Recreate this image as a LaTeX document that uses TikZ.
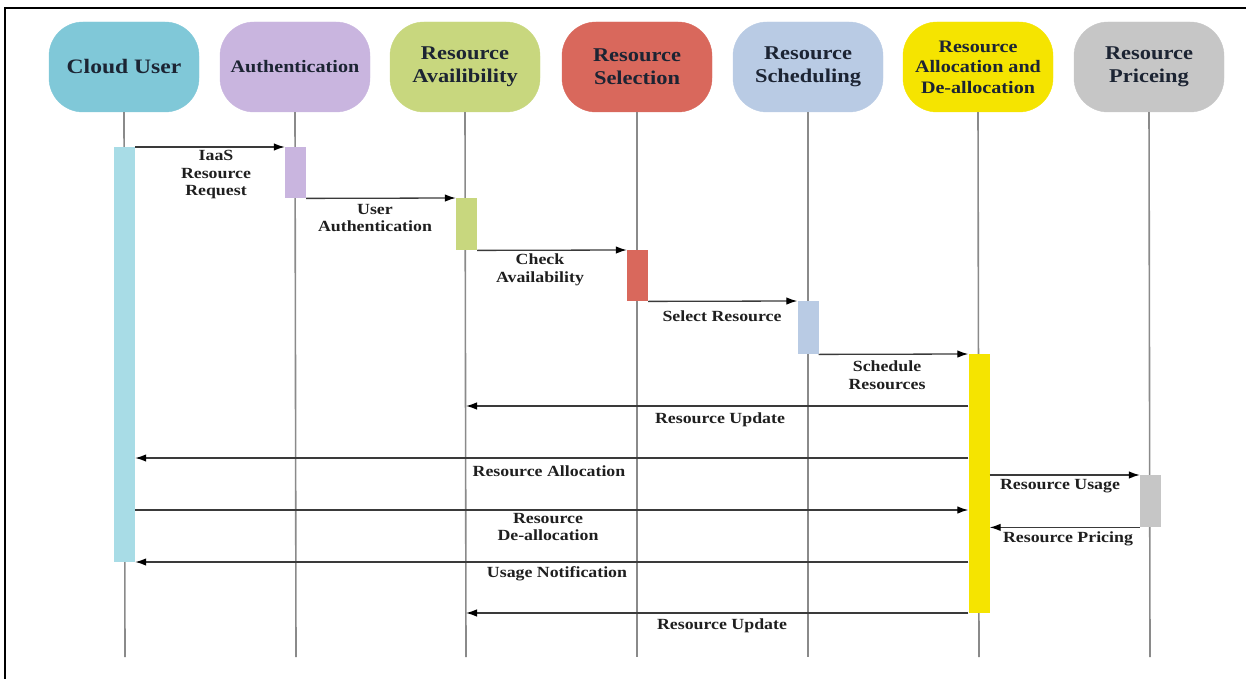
\documentclass[tikz,border=0pt]{standalone}
\usepackage{fontspec}
\setmainfont{Liberation Serif}
\newfontfamily\wfont[FakeStretch=1.15]{Liberation Serif}
\usetikzlibrary{arrows.meta}
\definecolor{cCloud}{HTML}{80C8D8}
\definecolor{cCloudBar}{HTML}{A8DCE6}
\definecolor{cAuth}{HTML}{C9B5DF}
\definecolor{cAvail}{HTML}{C8D77E}
\definecolor{cSel}{HTML}{D9685C}
\definecolor{cSched}{HTML}{B9CBE4}
\definecolor{cAlloc}{HTML}{F5E400}
\definecolor{cPrice}{HTML}{C6C6C6}
\definecolor{headtxt}{HTML}{1C2433}
\definecolor{lifegray}{HTML}{8A8A8A}
\definecolor{msggray}{HTML}{3A3A3A}
\tikzset{
  head/.style={fill=#1, draw=#1, rounded corners=34pt, minimum width=150pt,
    minimum height=90pt, inner sep=0pt, align=center, text=headtxt},
  hbig/.style={font=\wfont\bfseries\fontsize{20.5}{23}\selectfont},
  hmid/.style={font=\wfont\bfseries\fontsize{19.5}{23}\selectfont},
  hsmall/.style={font=\wfont\bfseries\fontsize{17.5}{20.5}\selectfont},
  bar/.style={fill=#1, draw=none, minimum width=21pt, inner sep=0pt, anchor=north},
  life/.style={draw=lifegray, line width=1.6pt},
  msg/.style={draw=msggray, line width=1.3pt, -{Latex[length=11pt,width=7.5pt,color=black]}},
  lbl/.style={font=\wfont\bfseries\fontsize{15.5}{17.5}\selectfont, text=black!88, align=center, inner sep=0pt},
}
\begin{document}
\begin{tikzpicture}[x=1pt,y=-1pt]
\useasboundingbox (0,0) rectangle (1246,679);
% frame (cropped)
\draw[line width=2pt] (5,679) -- (5,8) -- (1246,8);

% headers
\node[head=cCloud, hbig]  (h1) at (124,67)  {Cloud User};
\node[head=cAuth, hsmall] (h2) at (295,67)  {Authentication};
\node[head=cAvail, hmid]  (h3) at (465,67)  {Resource\\Availibility};
\node[head=cSel, hmid]    (h4) at (637,67)  {Resource\\Selection};
\node[head=cSched, hmid]  (h5) at (808,67)  {Resource\\Scheduling};
\node[head=cAlloc, hsmall](h6) at (978,67)  {Resource\\Allocation and\\De-allocation};
\node[head=cPrice, hmid]  (h7) at (1149,67) {Resource\\Priceing};

% lifeline ends
\coordinate (e1) at (125,657);
\coordinate (e2) at (296,657);
\coordinate (e3) at (466,657);
\coordinate (e4) at (637,657);
\coordinate (e5) at (808,657);
\coordinate (e6) at (979,657);
\coordinate (e7) at (1150,657);
\foreach \i in {1,...,7} { \draw[life] (h\i.south) -- (e\i); }

% activation bars
\node[bar=cCloudBar, minimum height=415pt] (b1) at (124.5,147) {};
\node[bar=cAuth,  minimum height=51pt]  (b2) at (295.5,147) {};
\node[bar=cAvail, minimum height=52pt]  (b3) at (466.5,198) {};
\node[bar=cSel,   minimum height=51pt]  (b4) at (637.5,250) {};
\node[bar=cSched, minimum height=53pt]  (b5) at (808,301) {};
\node[bar=cAlloc, minimum height=259pt] (b6) at (979,354) {};
\node[bar=cPrice, minimum height=52pt]  (b7) at (1150.5,475) {};

% message rows
\coordinate (y6)  at (0,406);
\coordinate (y7)  at (0,458);
\coordinate (y8)  at (0,510);
\coordinate (y11) at (0,562);
\coordinate (y12) at (0,613);

% messages
\draw[msg] (b1.north east) -- (b2.north west);
\draw[msg] (b2.south east) -- (b3.north west);
\draw[msg] (b3.south east) -- (b4.north west);
\draw[msg] (b4.south east) -- (b5.north west);
\draw[msg] (b5.south east) -- (b6.north west);
\draw[msg] (b6.west |- y6) -- (e3 |- y6);
\draw[msg] (b6.west |- y7) -- (b1.east |- y7);
\draw[msg] (b1.east |- y8) -- (b6.west |- y8);
\draw[msg] (b6.east |- b7.north) -- (b7.north west);
\draw[msg] (b7.south west) -- (b6.east |- b7.south);
\draw[msg] (b6.west |- y11) -- (b1.east |- y11);
\draw[msg] (b6.west |- y12) -- (e3 |- y12);

% labels
\node[lbl] (t1)  at (216,175) {IaaS\\Resource\\Request};
\node[lbl] (t2)  at (375,218) {User\\Authentication};
\node[lbl] (t3)  at (540,270) {Check\\Availability};
\node[lbl] (t4)  at (722,316) {Select Resource};
\node[lbl] (t5)  at (887,375) {Schedule\\Resources};
\node[lbl] (t6)  at (720,420) {Resource Update};
\node[lbl] (t7)  at (549,471) {Resource Allocation};
\node[lbl] (t8)  at (548,527) {Resource\\De-allocation};
\node[lbl] (t9)  at (1060,486) {Resource Usage};
\node[lbl] (t10) at (1068,539) {Resource Pricing};
\node[lbl] (t11) at (557,574) {Usage Notification};
\node[lbl] (t12) at (722,626) {Resource Update};
\end{tikzpicture}
\end{document}
